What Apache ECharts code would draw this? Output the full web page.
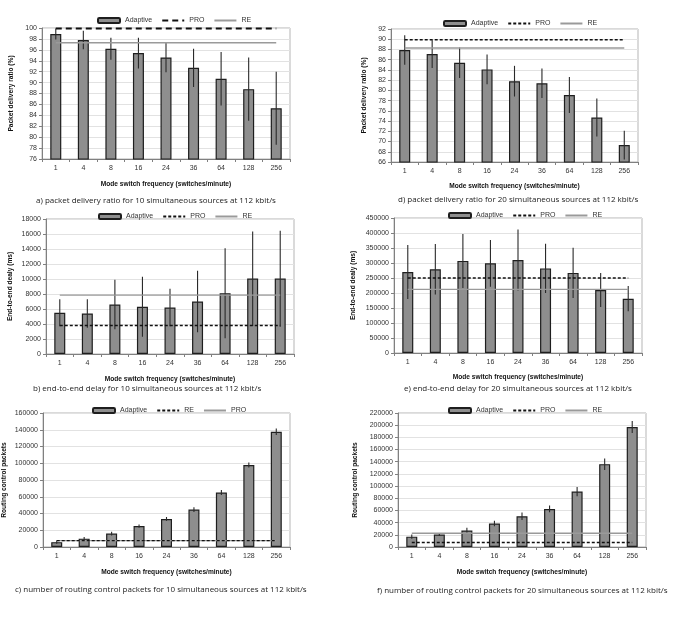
<!DOCTYPE html>
<html>
<head>
<meta charset="utf-8">
<script src="https://cdn.jsdelivr.net/npm/echarts@6/dist/echarts.min.js"></script>
<style>
html,body{margin:0;padding:0;background:#fff;}
#chart{width:685px;height:625px;}
</style>
</head>
<body>
<div id="chart"></div>
<script>
// ---------- data ----------
const categories = ['1', '4', '8', '16', '24', '36', '64', '128', '256'];

// a) packet delivery ratio, 10 sources
const pdr10 = [98.9, 97.8, 96.2, 95.4, 94.6, 92.7, 90.7, 88.8, 85.3];
const pdr10Err = [1.0, 1.7, 2.0, 2.8, 2.7, 3.5, 4.9, 5.8, 6.7];
const pdr10Pro = 99.9;
const pdr10Re = 97.3;

// d) packet delivery ratio, 20 sources
const pdr20 = [87.9, 87.1, 85.4, 84.1, 81.8, 81.4, 79.1, 74.7, 69.3];
const pdr20Err = [2.9, 2.7, 3.0, 2.9, 3.0, 2.9, 3.5, 3.7, 2.8];
const pdr20Pro = 89.9;
const pdr20Re = 88.3;

// b) end-to-end delay, 10 sources
const delay10 = [5500, 5400, 6600, 6300, 6200, 7000, 8100, 10050, 10050];
const delay10Err = [1800, 1900, 3300, 4000, 2500, 4100, 6000, 6300, 6400];
const delay10Pro = 3800;
const delay10Re = 7850;

// e) end-to-end delay, 20 sources
const delay20 = [270000, 279000, 307000, 299000, 310000, 282000, 267000, 210000, 181000];
const delay20Err = [90000, 84000, 90000, 78000, 102000, 82000, 84000, 57000, 42000];
const delay20Pro = 250000;
const delay20Re = 212000;

// c) routing control packets, 10 sources
const ctrl10 = [5800, 10000, 16000, 25000, 33500, 44700, 65000, 98000, 137600];
const ctrl10Err = [2000, 1800, 2200, 2000, 2300, 2800, 3000, 3000, 3800];
const ctrl10Re = 7600;
const ctrl10Pro = 7600;

// f) routing control packets, 20 sources
const ctrl20 = [17000, 20500, 27000, 38500, 50500, 62500, 91000, 136000, 197000];
const ctrl20Err = [3500, 2500, 4500, 4500, 6000, 5500, 7500, 9500, 10000];
const ctrl20Pro = 7500;
const ctrl20Re = 22500;

// ---------- layout ----------
const FONT = 'Liberation Sans';
const CAPFONT = 'Open Sans';
const panels = [
  {id:'a', left:42, top:28, w:248, h:131, min:76, max:100, step:2, ytitle:'Packet delivery ratio (%)', yGap:27, xGap:22,
   vals:pdr10, err:pdr10Err, dashed:{name:'PRO', v:pdr10Pro}, solid:{name:'RE', v:pdr10Re}, order:['Adaptive','PRO','RE'],
   bigDash:true, legLeft:92, legTop:12, caption:'a) packet delivery ratio for 10 simultaneous sources at 112 kbit/s', capX:36, capY:201},
  {id:'d', left:391, top:29, w:247, h:133, min:66, max:92, step:2, ytitle:'Packet delivery ratio (%)', yGap:23, xGap:21,
   vals:pdr20, err:pdr20Err, dashed:{name:'PRO', v:pdr20Pro}, solid:{name:'RE', v:pdr20Re}, order:['Adaptive','PRO','RE'],
   legLeft:438, legTop:15, caption:'d) packet delivery ratio for 20 simultaneous sources at 112 kbit/s', capX:398, capY:200},
  {id:'b', left:46, top:219, w:248, h:135, min:0, max:18000, step:2000, ytitle:'End-to-end dealy (ms)', yGap:32, xGap:22,
   vals:delay10, err:delay10Err, dashed:{name:'PRO', v:delay10Pro}, solid:{name:'RE', v:delay10Re}, order:['Adaptive','PRO','RE'],
   legLeft:93, legTop:208, caption:'b) end-to-end delay for 10 simultaneous sources at 112 kbit/s', capX:33, capY:389},
  {id:'e', left:394, top:218, w:248, h:135, min:0, max:450000, step:50000, ytitle:'End-to-end dealy (ms)', yGap:37, xGap:21,
   vals:delay20, err:delay20Err, dashed:{name:'PRO', v:delay20Pro}, solid:{name:'RE', v:delay20Re}, order:['Adaptive','PRO','RE'],
   legLeft:443, legTop:207, caption:'e) end-to-end delay for 20 simultaneous sources at 112 kbit/s', capX:404, capY:389},
  {id:'c', left:42, top:413, w:248, h:134, min:0, max:160000, step:20000, ytitle:'Routing control packets', yGap:35, xGap:22,
   vals:ctrl10, err:ctrl10Err, dashed:{name:'RE', v:ctrl10Re}, solid:{name:'PRO', v:ctrl10Pro}, order:['Adaptive','RE','PRO'],
   legLeft:87, legTop:402, caption:'c) number of routing control packets for 10 simultaneous sources at 112 kbit/s', capX:15, capY:590},
  {id:'f', left:398, top:413, w:248, h:134, min:0, max:220000, step:20000, ytitle:'Routing control packets', yGap:39, xGap:22,
   vals:ctrl20, err:ctrl20Err, dashed:{name:'PRO', v:ctrl20Pro}, solid:{name:'RE', v:ctrl20Re}, order:['Adaptive','PRO','RE'],
   legLeft:443, legTop:402, caption:'f) number of routing control packets for 20 simultaneous sources at 112 kbit/s', capX:377, capY:591}
];

const option = {
  animation: false,
  backgroundColor: '#fff',
  grid: [], xAxis: [], yAxis: [], series: [], legend: [], graphic: []
};

panels.forEach((p, i) => {
  const nm = s => p.id + '|' + s;
  option.grid.push({left:p.left, top:p.top, width:p.w, height:p.h, show:true, borderColor:'#b5b5b5', borderWidth:1});
  option.xAxis.push({
    type:'category', gridIndex:i, data:categories,
    axisLine:{lineStyle:{color:'#808080', width:1}},
    axisTick:{show:true, length:3, lineStyle:{color:'#808080'}},
    axisLabel:{fontSize:7, color:'#333', margin:6, fontFamily:FONT},
    name:'Mode switch frequency (switches/minute)', nameLocation:'middle', nameGap:p.xGap,
    nameTextStyle:{fontSize:6.6, fontWeight:'bold', color:'#111', fontFamily:FONT}
  });
  option.yAxis.push({
    type:'value', gridIndex:i, min:p.min, max:p.max, interval:p.step,
    axisLine:{show:true, lineStyle:{color:'#808080', width:1}},
    axisTick:{show:true, length:3, lineStyle:{color:'#808080'}},
    axisLabel:{fontSize:7, color:'#333', margin:5, fontFamily:FONT, formatter:v => String(v)},
    splitLine:{lineStyle:{color:'#e2e2e2', width:1}},
    name:p.ytitle, nameLocation:'middle', nameGap:p.yGap,
    nameTextStyle:{fontSize:6.6, fontWeight:'bold', color:'#111', fontFamily:FONT}
  });
  option.series.push({
    name:nm('Adaptive'), type:'bar', xAxisIndex:i, yAxisIndex:i, data:p.vals, barWidth:11,
    itemStyle:{color:'#8e8e8e', borderColor:'#1e1e1e', borderWidth:1.2}, z:2
  });
  const errData = p.vals.map((v, k) => [k, v - p.err[k], v + p.err[k]]);
  option.series.push({
    name:nm('err'), type:'custom', xAxisIndex:i, yAxisIndex:i, data:errData, z:4,
    renderItem:(params, api) => {
      const lo = api.coord([api.value(0), api.value(1)]);
      const hi = api.coord([api.value(0), api.value(2)]);
      return {type:'line', shape:{x1:lo[0], y1:lo[1], x2:hi[0], y2:hi[1]}, style:{stroke:'#2a2a2a', lineWidth:1.1}};
    }
  });
  const solidSeries = {
    name:nm(p.solid.name), type:'line', xAxisIndex:i, yAxisIndex:i, symbol:'none', z:5,
    data:categories.map(() => p.solid.v),
    lineStyle:{color:'#9a9a9a', width:1.4, type:'solid'}, itemStyle:{color:'#9a9a9a'}
  };
  const dashedSeries = {
    name:nm(p.dashed.name), type:'line', xAxisIndex:i, yAxisIndex:i, symbol:'none', z:6,
    data:categories.map(() => p.dashed.v),
    lineStyle:{color:'#111', width:p.bigDash ? 2 : 1.4, type:p.bigDash ? [6, 4] : [3, 2]}, itemStyle:{color:'#111'}
  };
  option.series.push(solidSeries, dashedSeries);
  option.legend.push({
    left:p.legLeft, top:p.legTop, orient:'horizontal', itemWidth:22, itemHeight:5, itemGap:9,
    data:p.order.map(s => s === 'Adaptive' ? {name:nm(s)} : {name:nm(s), itemStyle:{opacity:0}}),
    formatter:n => n.split('|')[1],
    textStyle:{fontSize:7, color:'#333', fontFamily:FONT}, selectedMode:false
  });
  option.graphic.push({
    type:'text', x:p.capX, y:p.capY,
    style:{text:p.caption, font:'8px "' + CAPFONT + '"', fill:'#222', align:'left', verticalAlign:'middle'}
  });
});

const chart = echarts.init(document.getElementById('chart'), null, {renderer:'canvas'});
chart.setOption(option);
</script>
</body>
</html>
